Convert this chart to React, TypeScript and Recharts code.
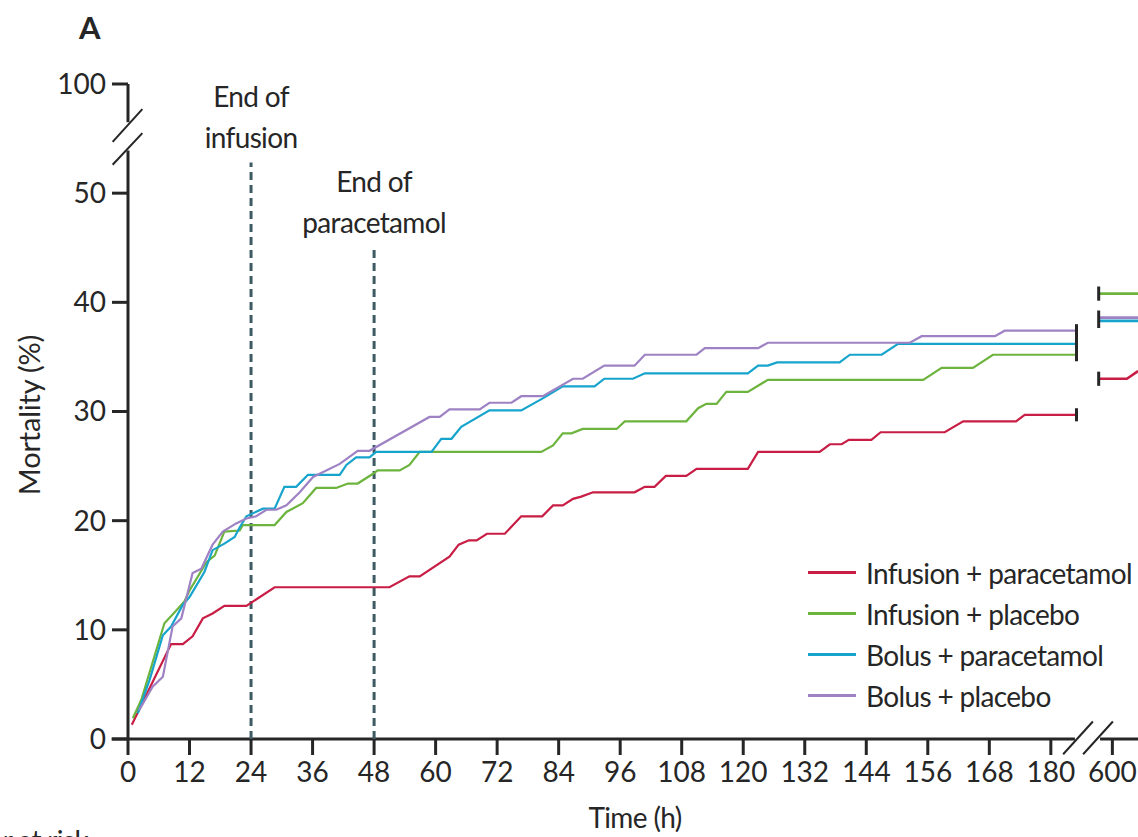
import { LineChart, Line, XAxis, YAxis, ReferenceLine } from "recharts";

// cumulative mortality (%) by time (h)
const infusionParacetamol = [
  [0.75, 1.3], [8.4, 8.7], [10.7, 8.7], [12.6, 9.4], [14.6, 11.05], [16.5, 11.5], [18.8, 12.2],
  [23.1, 12.2], [28.6, 13.9], [51, 13.9], [54.9, 14.9], [56.9, 14.9], [62.7, 16.7], [64.5, 17.8],
  [66.5, 18.2], [68, 18.2], [70, 18.8], [73.5, 18.8], [76.7, 20.4], [80.8, 20.4], [82.9, 21.4],
  [84.8, 21.4], [86.8, 22.0], [88.4, 22.2], [90.7, 22.6], [98.8, 22.6], [100.8, 23.1], [102.7, 23.1],
  [104.9, 24.1], [108.9, 24.1], [110.9, 24.75], [120.9, 24.75], [122.9, 26.3], [134.9, 26.3],
  [136.9, 27.0], [139.2, 27.0], [140.6, 27.4], [145, 27.4], [146.8, 28.1], [159.3, 28.1],
  [162.9, 29.1], [173.2, 29.1], [174.9, 29.7], [185, 29.7],
];
const infusionPlacebo = [
  [0.94, 1.9], [2.6, 3.6], [7.1, 10.6], [8.7, 11.4], [11, 12.6], [12, 13.6], [15.3, 16.2],
  [16.9, 16.8], [18.8, 19.0], [21.8, 19.1], [22.4, 19.6], [28.6, 19.6], [30.9, 20.8], [34.1, 21.6],
  [36.7, 23.0], [40.6, 23.0], [42.9, 23.4], [44.8, 23.4], [47.8, 24.3], [48.7, 24.6], [53, 24.6],
  [54.9, 25.1], [56.9, 26.3], [80.6, 26.3], [82.9, 26.9], [84.8, 28.0], [86.5, 28.0], [88.7, 28.4],
  [95.3, 28.4], [96.9, 29.1], [108.9, 29.1], [111.2, 30.3], [112.8, 30.7], [114.8, 30.7],
  [116.7, 31.8], [120.9, 31.8], [124.8, 32.9], [155.1, 32.9], [158.7, 34.0], [164.8, 34.0],
  [168.7, 35.2], [185, 35.2],
];
const bolusParacetamol = [
  [1.9, 2.35], [4.2, 5.4], [6.8, 9.5], [8.4, 10.3], [10.7, 12.3], [12, 13.0], [14.9, 15.3],
  [16.5, 17.3], [18.8, 17.9], [20.8, 18.5], [21.8, 19.4], [23.1, 20.4], [26.3, 21.1], [28.6, 21.1],
  [30.5, 23.1], [32.8, 23.1], [35.1, 24.2], [41.3, 24.2], [42.6, 25.1], [44.5, 25.8], [47.1, 25.8],
  [48.4, 26.3], [59.2, 26.3], [61.1, 27.5], [63.1, 27.5], [65, 28.6], [70.5, 30.1], [76.7, 30.1],
  [80.9, 31.2], [84.8, 32.3], [91, 32.3], [92.9, 33.0], [98.5, 33.0], [100.8, 33.5], [120.9, 33.5],
  [122.9, 34.2], [124.8, 34.2], [126.6, 34.5], [138.8, 34.5], [140.8, 35.2], [147, 35.2],
  [150.2, 36.2], [185, 36.2],
];
const bolusPlacebo = [
  [2.2, 2.65], [4.8, 4.8], [6.8, 5.7], [8.7, 10.3], [10.4, 11.05], [12.6, 15.2], [14.3, 15.6],
  [16.5, 17.8], [18.5, 19.0], [21.1, 19.75], [23.1, 20.2], [25, 20.4], [27, 21.0], [28.9, 21.0],
  [30.9, 21.4], [33.5, 22.6], [36.1, 24.0], [41.3, 25.2], [44.8, 26.4], [47.1, 26.4], [58.8, 29.5],
  [60.8, 29.5], [62.7, 30.2], [68.6, 30.2], [70.5, 30.8], [74.8, 30.8], [76.7, 31.4], [80.9, 31.4],
  [86.8, 33.0], [88.7, 33.0], [92.9, 34.2], [98.8, 34.2], [100.8, 35.2], [110.9, 35.2],
  [112.5, 35.8], [122.9, 35.8], [124.8, 36.3], [152.5, 36.3], [154.8, 36.9], [169.1, 36.9],
  [171, 37.4], [185, 37.4],
];

// after the axis break
const infusionParacetamolLate = [[568, 33.0], [634, 33.0], [660, 33.7]];
const infusionPlaceboLate = [[568, 40.8], [660, 40.8]];
const bolusParacetamolLate = [[568, 38.3], [660, 38.3]];
const bolusPlaceboLate = [[568, 38.6], [660, 38.6]];

const xTicks = [0, 12, 24, 36, 48, 60, 72, 84, 96, 108, 120, 132, 144, 156, 168, 180, 600];
const yTicks = [0, 10, 20, 30, 40, 50, 100];

const series = [
  { name: "Infusion + paracetamol", color: "#c81d44", main: infusionParacetamol, late: infusionParacetamolLate },
  { name: "Infusion + placebo", color: "#6db43e", main: infusionPlacebo, late: infusionPlaceboLate },
  { name: "Bolus + paracetamol", color: "#17a4cc", main: bolusParacetamol, late: bolusParacetamolLate },
  { name: "Bolus + placebo", color: "#9e82c4", main: bolusPlacebo, late: bolusPlaceboLate },
];

// broken axes: 600 h sits at 192 on the x scale, 100 % at 60 on the y scale
const xPos = (t: number) => (t <= 190 ? t : 192 + (t - 600) / 12);
const yPos = (v: number) => (v > 50 ? 50 + (v - 50) / 5 : v);
const toRows = (arr: number[][]) => arr.map(([t, v]) => ({ x: xPos(t), y: v }));

const ink = "#262626";
const dashColor = "#3e5a63";
const font = "Lato, 'Liberation Sans', sans-serif";
const tight = -0.65;

// censor bars: which series share a bar
const endGroups = [[0], [1, 2, 3]];
const lateGroups = [[0], [1], [2, 3]];

function bar(group: number[], key: "main" | "late", pad: number) {
  const pts = group.map((i) => series[i][key][key === "main" ? series[i].main.length - 1 : 0]);
  const x = xPos(pts[0][0]);
  const vals = pts.map((p) => p[1]);
  return { x, lo: Math.min(...vals) - pad, hi: Math.max(...vals) + pad };
}

const twoLineLabel = (a: string, b: string) => (props: any) => {
  const { x, y } = props.viewBox;
  return (
    <text x={x} textAnchor="middle" fill={ink} fontSize={28} style={{ letterSpacing: tight }}>
      <tspan x={x} y={y - 56}>{a}</tspan>
      <tspan x={x} y={y - 15}>{b}</tspan>
    </text>
  );
};

export default function App() {
  const seg = { stroke: ink, strokeWidth: 3, ifOverflow: "visible" as const };
  const slash = { stroke: ink, strokeWidth: 2, ifOverflow: "visible" as const };
  return (
    <div
      style={{
        position: "absolute", left: 0, top: 0, width: 1138, height: 837, overflow: "hidden",
        background: "#fff", fontFamily: font, color: ink,
      }}
    >
      <div style={{ position: "absolute", left: 79, top: 8, fontSize: 31, fontWeight: 700 }}>A</div>
      <div
        style={{
          position: "absolute", left: 28, top: 415, fontSize: 29, whiteSpace: "nowrap",
          transform: "translate(-50%, -50%) rotate(-90deg)", letterSpacing: -0.2,
        }}
      >
        Mortality (%)
      </div>
      <div
        style={{
          position: "absolute", left: 635, top: 800, fontSize: 28, transform: "translateX(-50%)",
          letterSpacing: tight, whiteSpace: "nowrap",
        }}
      >
        Time (h)
      </div>
      <div style={{ position: "absolute", right: 1050, top: 823, fontSize: 28, whiteSpace: "nowrap", letterSpacing: tight }}>
        Number at risk
      </div>

      <div style={{ position: "absolute", left: 808, top: 552 }}>
        {series.map((s) => (
          <div key={s.name} style={{ display: "flex", alignItems: "center", height: 41 }}>
            <span style={{ width: 48, height: 3, background: s.color, marginRight: 10 }} />
            <span style={{ fontSize: 28, whiteSpace: "nowrap", letterSpacing: tight }}>{s.name}</span>
          </div>
        ))}
      </div>

      <LineChart width={1138} height={837} margin={{ top: 84, right: 0, bottom: 0, left: 0 }} style={{ position: "absolute", left: 0, top: 0 }}>
        <XAxis
          type="number"
          dataKey="x"
          domain={[0, 197]}
          allowDataOverflow
          ticks={xTicks.map(xPos)}
          tickFormatter={(v) => String(xTicks[xTicks.map(xPos).indexOf(v)])}
          interval={0}
          height={98}
          axisLine={false}
          tickLine={{ stroke: ink, strokeWidth: 3 }}
          tickSize={16}
          tickMargin={7}
          tick={{ fontSize: 28, fill: ink }}
        />
        <YAxis
          type="number"
          dataKey="y"
          domain={[0, 60]}
          allowDataOverflow
          ticks={yTicks.map(yPos)}
          tickFormatter={(v) => String(yTicks[yTicks.map(yPos).indexOf(v)])}
          interval={0}
          width={128}
          axisLine={false}
          tickLine={{ stroke: ink, strokeWidth: 3 }}
          tickSize={16}
          tickMargin={6}
          tick={{ fontSize: 28, fill: ink }}
        />

        {/* axis lines with breaks */}
        <ReferenceLine segment={[{ x: 0, y: 0 }, { x: 0, y: 53.9 }]} {...seg} />
        <ReferenceLine segment={[{ x: 0, y: 56.5 }, { x: 0, y: 60 }]} {...seg} />
        <ReferenceLine segment={[{ x: -3.0, y: 54.7 }, { x: 2.8, y: 57.7 }]} {...slash} />
        <ReferenceLine segment={[{ x: -3.0, y: 52.6 }, { x: 2.8, y: 55.5 }]} {...slash} />
        <ReferenceLine segment={[{ x: -3.2, y: 0 }, { x: 184.7, y: 0 }]} {...seg} />
        <ReferenceLine segment={[{ x: 189.6, y: 0 }, { x: 197, y: 0 }]} {...seg} />
        <ReferenceLine segment={[{ x: 182.4, y: -1.4 }, { x: 188.2, y: 1.6 }]} {...slash} />
        <ReferenceLine segment={[{ x: 186.3, y: -1.4 }, { x: 192.1, y: 1.6 }]} {...slash} />

        <ReferenceLine
          segment={[{ x: 24, y: 0 }, { x: 24, y: 52.8 }]}
          stroke={dashColor}
          strokeWidth={3}
          strokeDasharray="8 5"
          label={{ content: twoLineLabel("End of", "infusion") }}
        />
        <ReferenceLine
          segment={[{ x: 48, y: 0 }, { x: 48, y: 45 }]}
          stroke={dashColor}
          strokeWidth={3}
          strokeDasharray="8 5"
          label={{ content: twoLineLabel("End of", "paracetamol") }}
        />

        {series.map((s) => (
          <Line
            key={s.name}
            data={toRows(s.main)}
            dataKey="y"
            type="linear"
            stroke={s.color}
            strokeWidth={2.2}
            dot={false}
            isAnimationActive={false}
          />
        ))}
        {series.map((s) => (
          <Line
            key={s.name + "-late"}
            data={toRows(s.late)}
            dataKey="y"
            type="linear"
            stroke={s.color}
            strokeWidth={2.6}
            dot={false}
            isAnimationActive={false}
          />
        ))}

        {endGroups.map((g, i) => {
          const b = bar(g, "main", 0.6);
          return <ReferenceLine key={"e" + i} segment={[{ x: b.x, y: b.lo }, { x: b.x, y: b.hi }]} {...seg} />;
        })}
        {lateGroups.map((g, i) => {
          const b = bar(g, "late", 0.65);
          return <ReferenceLine key={"l" + i} segment={[{ x: b.x, y: b.lo }, { x: b.x, y: b.hi }]} {...seg} />;
        })}
      </LineChart>
    </div>
  );
}
